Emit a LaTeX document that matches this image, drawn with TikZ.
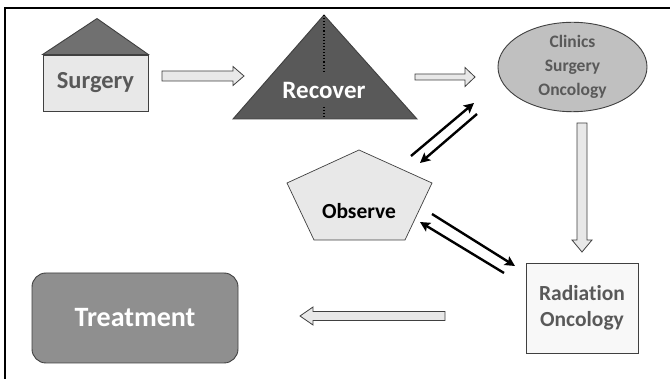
\documentclass[tikz,border=0pt]{standalone}
\usepackage{fontspec}
\setmainfont{Carlito}[Ligatures=NoCommon]
\usetikzlibrary{shapes.geometric,arrows.meta,calc}
\definecolor{lightfill}{HTML}{E8E8E8}
\definecolor{rooffill}{HTML}{707070}
\definecolor{recfill}{HTML}{595959}
\definecolor{ellfill}{HTML}{C0C0C0}
\definecolor{radfill}{HTML}{F8F8F8}
\definecolor{treatfill}{HTML}{8F8F8F}
\definecolor{txtgray}{HTML}{595959}
\definecolor{edge}{HTML}{404040}
\tikzset{
  shapeline/.style={draw=edge, line width=0.9pt},
  graytext/.style={text=txtgray, font=\bfseries\fontsize{24.5}{26}\selectfont, align=center},
  whitetext/.style={text=white, font=\bfseries\fontsize{25}{27}\selectfont, align=center},
  blackarrow/.style={line width=2.4pt, -{Stealth[length=10pt,width=10pt,inset=2pt]}},
  pics/barrow/.style n args={4}{code={
    \draw[draw=edge, line width=0.8pt, fill=lightfill]
      (0,-#2) -- ({#1-#4},-#2) -- ({#1-#4},-#3) -- (#1,0) -- ({#1-#4},#3) -- ({#1-#4},#2) -- (0,#2) -- cycle;
  }}
}
\begin{document}
\begin{tikzpicture}[x=1pt,y=-1pt]
\useasboundingbox (0,0) rectangle (670,379);
\fill[white] (0,0) rectangle (670,379);
% frame
\draw[line width=2.4pt, black] (5,379) -- (5,8) -- (670,8);

% Surgery house
\node[shapeline, fill=lightfill, minimum width=105pt, minimum height=56pt, graytext] (surg) at (95.5,83) {Surgery};
\coordinate (roofpeak) at ($(surg.north)+(1.5,-36)$);
\draw[shapeline, fill=rooffill] (surg.north west) -- (roofpeak) -- (surg.north east) -- cycle;

% Recover triangle
\coordinate (rapex) at (324,15);
\coordinate (rbl) at (233,119);
\coordinate (rbr) at (417,119);
\draw[shapeline, fill=recfill] (rbl) -- (rapex) -- (rbr) -- cycle;
\node[whitetext] (recover) at (324,90) {Recover};
\coordinate (dot1) at (324,71);
\coordinate (dot2) at (324,107);
\coordinate (rbase) at (324,119);
\draw[dotted, line width=1.1pt, black] (rapex) -- (dot1);
\draw[dotted, line width=1.1pt, black] (dot2) -- (rbase);

% Clinics ellipse
\node[ellipse, shapeline, fill=ellfill, minimum width=149pt, minimum height=82pt, inner sep=0pt,
      text=txtgray, font=\bfseries\fontsize{17.5}{24}\selectfont, align=center] (clinics) at (572.5,67)
      {Clinics\\Surgery\\Oncology};

% Observe pentagon
\coordinate (p1) at (359,150);
\coordinate (p2) at (432,183);
\coordinate (p3) at (405,240);
\coordinate (p4) at (314,240);
\coordinate (p5) at (287,183);
\draw[shapeline, line width=0.7pt, fill=lightfill] (p1) -- (p2) -- (p3) -- (p4) -- (p5) -- cycle;
\node[text=black, font=\bfseries\fontsize{21.5}{23}\selectfont] (observe) at (359,211) {Observe};

% Radiation Oncology
\node[shapeline, fill=radfill, minimum width=112pt, minimum height=90pt, inner sep=0pt,
      text=txtgray, font=\bfseries\fontsize{21.5}{26}\selectfont, align=center] (rad) at (582,308)
      {Radiation\\Oncology};

% Treatment
\node[shapeline, rounded corners=14pt, fill=treatfill, minimum width=206pt, minimum height=90pt,
      whitetext, font=\bfseries\fontsize{28}{29}\selectfont] (treat) at (135,318) {Treatment};

% block arrows
\pic at (162,76) {barrow={82}{5}{9.5}{11}};
\pic at (415,77) {barrow={60}{3}{9.5}{10}};
\pic[rotate=-90] at (582,123) {barrow={129}{5}{10}{12}};
\pic[rotate=180] at (445,316) {barrow={145}{4.5}{9}{13}};

% black arrows
\coordinate (a1s) at (411,156); \coordinate (a1e) at (474,103);
\coordinate (a2s) at (477,114); \coordinate (a2e) at (420,163);
\coordinate (a3s) at (432,214); \coordinate (a3e) at (515,266);
\coordinate (a4s) at (504,273); \coordinate (a4e) at (420,222);
\draw[blackarrow] (a1s) -- (a1e);
\draw[blackarrow] (a2s) -- (a2e);
\draw[blackarrow] (a3s) -- (a3e);
\draw[blackarrow] (a4s) -- (a4e);
\end{tikzpicture}
\end{document}
